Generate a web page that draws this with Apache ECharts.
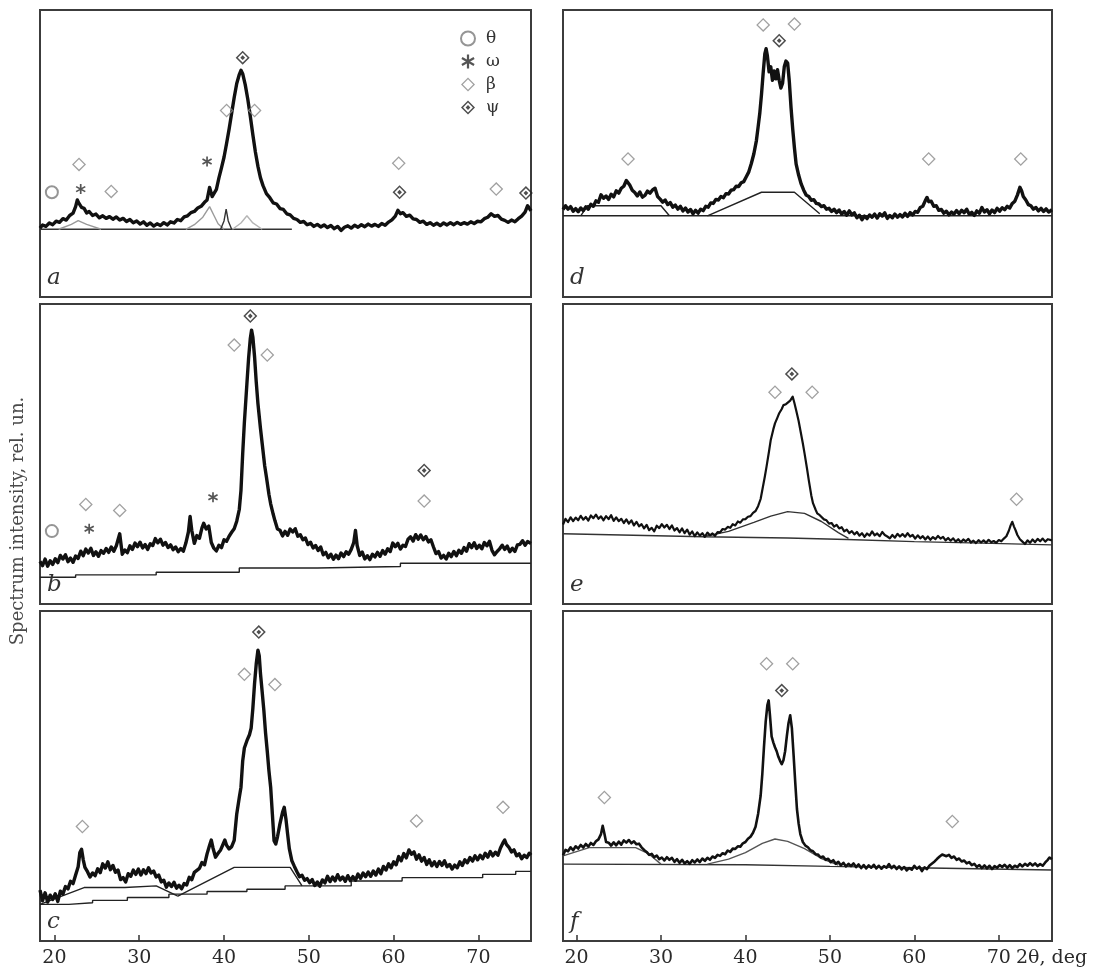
<!DOCTYPE html>
<html>
<head>
<meta charset="utf-8">
<script src="https://cdn.jsdelivr.net/npm/echarts@6/dist/echarts.min.js"></script>
<style>
  html, body { margin: 0; padding: 0; background: #fff; }
  #chart { width: 1096px; height: 970px; }
</style>
</head>
<body>
<div id="chart"></div>
<script>
// ticks of the 2θ axis
const tickValues = [20, 30, 40, 50, 60, 70];

// ---- panel a ----
const curveA = [[18.3,24.0],[18.6,25.1],[19.0,24.6],[19.4,25.8],[19.8,25.2],[20.2,26.4],[20.6,26.0],[21.0,27.3],[21.4,26.8],[21.8,28.4],[22.2,29.2],[22.5,31.5],[22.7,33.8],[22.9,32.6],[23.2,31.2],[23.5,30.9],[23.8,29.3],[24.1,29.8],[24.5,28.4],[24.9,28.9],[25.3,27.6],[25.7,28.3],[26.1,27.4],[26.5,28.0],[26.9,27.1],[27.3,27.9],[27.7,26.8],[28.1,27.4],[28.5,26.3],[28.9,27.0],[29.3,25.9],[29.7,26.5],[30.1,25.4],[30.5,26.2],[30.9,25.0],[31.3,25.8],[31.7,24.7],[32.1,25.5],[32.5,24.9],[32.9,25.9],[33.3,25.1],[33.7,26.2],[34.1,25.8],[34.5,27.0],[34.9,26.6],[35.3,27.9],[35.7,28.3],[36.1,29.4],[36.5,29.8],[36.9,31.0],[37.3,31.6],[37.7,33.0],[38.0,33.8],[38.3,38.2],[38.6,35.0],[38.8,34.5],[39.1,37.5],[39.4,41.5],[39.7,45.0],[40.0,48.7],[40.3,53.5],[40.6,58.5],[40.9,64.0],[41.2,69.5],[41.5,74.4],[41.8,77.5],[42.0,79.0],[42.2,77.8],[42.5,74.0],[42.8,69.0],[43.1,63.0],[43.4,56.5],[43.7,50.5],[44.0,45.5],[44.3,41.5],[44.6,38.8],[45.0,36.0],[45.4,34.6],[45.8,32.8],[46.2,32.4],[46.6,30.8],[47.0,30.5],[47.4,29.0],[47.8,28.6],[48.2,27.4],[48.6,27.0],[49.0,26.0],[49.4,26.3],[49.8,25.2],[50.2,25.6],[50.6,24.6],[51.0,25.3],[51.4,24.4],[51.8,25.1],[52.2,24.2],[52.6,24.9],[53.0,23.8],[53.4,24.6],[53.8,23.2],[54.2,24.3],[54.6,24.8],[55.0,24.0],[55.4,25.0],[55.8,24.3],[56.2,25.2],[56.6,24.5],[57.0,25.4],[57.4,24.7],[57.8,25.3],[58.2,24.6],[58.6,25.6],[59.0,25.0],[59.4,26.1],[59.8,26.9],[60.2,28.2],[60.5,30.2],[60.8,29.0],[61.1,29.4],[61.5,28.1],[61.9,28.5],[62.3,27.2],[62.7,27.0],[63.1,26.0],[63.5,26.4],[63.9,25.3],[64.3,25.9],[64.7,25.0],[65.1,25.7],[65.5,24.9],[65.9,25.8],[66.3,25.1],[66.7,25.9],[67.1,25.2],[67.5,26.0],[67.9,25.3],[68.3,25.9],[68.7,25.4],[69.1,26.2],[69.5,25.6],[69.9,26.4],[70.3,26.2],[70.7,27.3],[71.1,27.8],[71.5,29.0],[71.9,28.1],[72.3,28.4],[72.7,27.1],[73.1,26.7],[73.5,26.0],[73.9,26.8],[74.3,26.2],[74.7,27.3],[75.1,28.2],[75.5,29.6],[75.8,31.8],[76.2,30.0]];
const baseA = [[18.3,23.6],[48,23.6]];
const fitA1 = [[35.5,23.6],[36.5,25.2],[37.5,27.8],[38.3,31.5],[38.8,28.5],[39.3,25.5],[40.0,23.6]];
const fitA2 = [[39.6,23.6],[40.0,26.5],[40.25,30.6],[40.5,26.5],[40.9,23.6]];
const fitA3 = [[41.0,23.6],[42.0,25.8],[42.7,28.3],[43.4,25.8],[44.5,23.6]];
const fitA4 = [[20.5,23.6],[22.0,25.3],[22.8,26.6],[23.8,25.3],[25.5,23.6]];
const thetaA = [[19.7,36.5]];
const omegaA = [[23.1,37.6],[38.0,47.2]];
const betaA = [[22.9,46.2],[26.7,36.8],[40.3,65.0],[43.6,65.0],[60.6,46.6],[72.1,37.6]];
const psiA = [[42.2,83.4],[60.7,36.5],[75.6,36.2]];

// ---- panel b ----
const curveB = [[18.3,14.2],[18.6,12.8],[18.9,15.0],[19.2,12.6],[19.5,14.4],[19.8,13.2],[20.1,15.1],[20.4,13.8],[20.7,16.2],[21.0,15.0],[21.3,16.4],[21.6,14.1],[21.9,15.3],[22.2,13.9],[22.5,16.0],[22.8,15.2],[23.1,17.6],[23.4,16.1],[23.7,18.3],[24.0,17.0],[24.3,18.6],[24.6,16.2],[24.9,17.4],[25.2,15.9],[25.5,17.8],[25.8,16.9],[26.1,18.5],[26.4,17.2],[26.7,19.0],[27.0,17.6],[27.3,19.4],[27.7,23.4],[28.0,16.6],[28.3,18.0],[28.6,17.1],[28.9,19.4],[29.2,18.2],[29.5,20.3],[29.8,19.1],[30.1,20.6],[30.4,18.7],[30.7,19.8],[31.0,18.2],[31.3,20.1],[31.6,19.5],[31.9,21.8],[32.2,20.4],[32.5,21.6],[32.8,19.6],[33.1,20.5],[33.4,18.8],[33.7,19.7],[34.0,18.1],[34.3,19.0],[34.6,17.4],[34.9,18.5],[35.2,17.6],[35.5,20.3],[35.8,24.0],[36.0,29.2],[36.2,24.5],[36.5,20.2],[36.8,22.8],[37.1,21.9],[37.4,25.4],[37.6,26.9],[37.9,25.0],[38.2,26.0],[38.5,20.5],[38.8,18.6],[39.1,17.7],[39.4,19.6],[39.7,18.8],[40.0,21.4],[40.3,20.9],[40.6,22.6],[40.9,23.9],[41.2,25.1],[41.5,27.6],[41.8,31.5],[42.0,37.9],[42.2,50.0],[42.4,60.5],[42.7,73.5],[42.9,82.0],[43.1,88.5],[43.25,91.3],[43.4,89.0],[43.6,82.5],[43.8,74.0],[44.0,66.8],[44.3,58.5],[44.5,53.5],[44.8,46.0],[45.0,42.3],[45.3,36.5],[45.5,33.4],[45.8,29.9],[46.0,27.8],[46.3,25.0],[46.6,24.6],[46.9,22.7],[47.2,24.2],[47.5,22.9],[47.8,25.0],[48.1,24.0],[48.4,25.1],[48.7,22.6],[49.0,23.1],[49.3,21.4],[49.6,22.0],[49.9,19.8],[50.2,20.6],[50.5,18.7],[50.8,19.5],[51.1,17.8],[51.4,19.0],[51.7,16.4],[52.0,17.2],[52.3,15.4],[52.6,16.6],[52.9,14.9],[53.2,16.3],[53.5,15.1],[53.8,17.0],[54.1,15.8],[54.4,17.4],[54.7,16.6],[55.0,18.2],[55.3,20.5],[55.5,24.5],[55.7,19.5],[56.0,16.2],[56.3,17.3],[56.6,15.0],[56.9,16.1],[57.2,14.8],[57.5,16.6],[57.8,15.7],[58.1,17.2],[58.4,15.9],[58.7,17.8],[59.0,16.6],[59.3,18.4],[59.6,17.5],[59.9,20.3],[60.2,19.1],[60.5,20.2],[60.8,18.3],[61.1,19.6],[61.4,19.2],[61.7,21.6],[62.0,22.4],[62.3,21.0],[62.6,23.1],[62.9,21.6],[63.2,23.0],[63.5,21.4],[63.8,22.5],[64.1,20.7],[64.4,21.4],[64.7,19.0],[65.0,16.8],[65.3,17.5],[65.6,15.3],[65.9,16.2],[66.2,15.0],[66.5,16.9],[66.8,15.8],[67.1,17.5],[67.4,16.1],[67.7,17.9],[68.0,16.9],[68.3,18.8],[68.6,17.6],[68.9,20.1],[69.2,18.8],[69.5,20.4],[69.8,18.5],[70.1,19.6],[70.4,18.4],[70.7,20.5],[71.0,19.4],[71.3,20.9],[71.6,17.9],[71.9,16.4],[72.2,17.5],[72.5,18.4],[72.8,19.6],[73.1,18.2],[73.4,19.3],[73.7,17.4],[74.0,18.6],[74.3,17.5],[74.6,19.7],[74.9,19.9],[75.2,21.1],[75.5,19.6],[75.8,20.8],[76.2,20.2]];
const baseB = [[18.3,8.9],[22.5,8.9],[22.5,9.7],[32.0,9.7],[32.0,10.6],[41.8,10.6],[41.8,12.0],[51.0,12.0],[51.0,12.5],[60.8,12.5],[60.8,13.6],[76.2,13.6]];
const thetaB = [[19.7,24.3]];
const omegaB = [[24.1,25.1],[38.7,35.6]];
const betaB = [[23.7,33.2],[27.7,31.2],[41.2,86.3],[45.1,83.0],[63.6,34.3]];
const psiB = [[43.1,96.0],[63.6,44.5]];

// ---- panel c ----
const curveC = [[18.3,15.4],[18.6,12.2],[18.9,14.6],[19.2,11.8],[19.5,13.9],[19.8,12.6],[20.1,14.3],[20.4,12.0],[20.7,15.1],[21.0,14.2],[21.3,16.5],[21.6,15.8],[21.9,18.1],[22.2,17.4],[22.5,20.0],[22.8,22.5],[23.0,26.8],[23.2,27.8],[23.4,24.6],[23.6,22.3],[23.9,21.0],[24.2,19.4],[24.5,20.6],[24.8,19.8],[25.1,21.9],[25.4,20.7],[25.7,23.4],[26.0,22.1],[26.3,24.0],[26.6,21.6],[26.9,22.9],[27.2,20.8],[27.5,21.5],[27.8,18.6],[28.1,19.2],[28.4,17.9],[28.7,20.4],[29.0,19.6],[29.3,21.5],[29.6,20.2],[29.9,21.8],[30.2,20.0],[30.5,21.6],[30.8,20.4],[31.1,22.2],[31.4,20.6],[31.7,21.2],[32.0,19.4],[32.3,20.0],[32.6,17.9],[32.9,18.4],[33.2,16.3],[33.5,17.6],[33.8,16.5],[34.1,17.8],[34.4,16.0],[34.7,16.9],[35.0,15.8],[35.3,17.4],[35.6,17.0],[35.9,19.3],[36.2,18.6],[36.5,20.8],[36.8,21.4],[37.1,22.0],[37.4,23.8],[37.7,23.1],[38.0,26.4],[38.3,29.0],[38.5,30.6],[38.7,28.2],[39.0,25.4],[39.3,26.6],[39.6,27.6],[39.9,29.4],[40.1,30.6],[40.3,29.0],[40.6,27.9],[40.9,28.6],[41.2,30.5],[41.5,38.5],[41.8,43.5],[42.0,46.6],[42.2,54.5],[42.4,58.5],[42.7,60.7],[43.0,62.5],[43.2,64.5],[43.4,70.5],[43.6,78.0],[43.8,84.0],[44.0,88.1],[44.15,86.5],[44.3,81.0],[44.5,75.5],[44.7,69.8],[44.9,63.0],[45.1,57.5],[45.3,51.5],[45.5,46.6],[45.7,38.5],[45.9,30.4],[46.1,29.4],[46.3,31.5],[46.6,35.6],[46.9,39.0],[47.1,40.5],[47.3,37.0],[47.5,32.4],[47.7,28.0],[48.0,24.3],[48.3,22.6],[48.6,21.0],[48.9,19.5],[49.2,19.9],[49.5,18.4],[49.8,18.9],[50.1,17.7],[50.4,18.6],[50.7,16.8],[51.0,17.9],[51.3,16.6],[51.6,18.5],[51.9,17.6],[52.2,19.6],[52.5,18.0],[52.8,19.4],[53.1,18.2],[53.4,20.1],[53.7,18.5],[54.0,19.4],[54.3,18.1],[54.6,19.8],[54.9,18.3],[55.2,19.5],[55.5,18.4],[55.8,20.3],[56.1,19.0],[56.4,20.6],[56.7,19.5],[57.0,20.9],[57.3,19.6],[57.6,21.2],[57.9,20.0],[58.2,21.8],[58.5,20.4],[58.8,22.6],[59.1,21.5],[59.4,23.4],[59.7,22.2],[60.0,24.0],[60.3,23.1],[60.6,25.6],[60.9,24.3],[61.2,26.5],[61.5,25.2],[61.8,27.6],[62.1,26.3],[62.4,27.0],[62.7,24.8],[63.0,26.1],[63.3,24.2],[63.6,25.3],[63.9,23.2],[64.2,24.6],[64.5,22.8],[64.8,24.0],[65.1,22.6],[65.4,24.1],[65.7,22.9],[66.0,24.3],[66.3,22.5],[66.6,23.2],[66.9,21.8],[67.2,23.0],[67.5,22.2],[67.8,24.0],[68.1,22.9],[68.4,24.6],[68.7,23.7],[69.0,25.3],[69.3,24.2],[69.6,25.8],[69.9,24.6],[70.2,26.0],[70.5,24.9],[70.8,26.6],[71.1,25.4],[71.4,27.1],[71.7,25.8],[72.0,26.9],[72.3,26.0],[72.6,28.2],[72.9,29.8],[73.1,30.6],[73.3,29.3],[73.6,28.4],[73.9,27.0],[74.2,27.6],[74.5,25.8],[74.8,26.4],[75.1,24.9],[75.4,26.0],[75.7,25.3],[76.0,26.6],[76.2,26.0]];
const baseC = [[18.3,11.1],[21.7,11.1],[21.7,11.6],[24.5,11.6],[24.5,12.3],[28.6,12.3],[28.6,13.2],[33.5,13.2],[33.5,14.2],[38.0,14.2],[38.0,15.0],[42.7,15.0],[42.7,15.7],[47.2,15.7],[47.2,16.7],[55.0,16.7],[55.0,18.2],[61.0,18.2],[61.0,19.2],[70.5,19.2],[70.5,20.2],[74.4,20.2],[74.4,21.1],[76.2,21.1]];
const haloC1 = [[18.3,11.1],[23.5,16.2],[28.3,16.2],[28.3,16.7],[32.0,16.7],[34.5,13.7]];
const haloC2 = [[34.5,13.5],[41.2,22.3],[47.8,22.3],[49.2,16.7]];
const betaC = [[23.3,34.7],[42.4,80.8],[46.0,77.7],[62.7,36.4],[72.9,40.5]];
const psiC = [[44.1,93.6]];

// ---- panel d ----
const curveD = [[18.4,30.5],[18.7,31.8],[19.0,30.6],[19.3,31.5],[19.6,29.9],[19.9,30.8],[20.2,29.7],[20.5,31.0],[20.8,30.1],[21.1,31.4],[21.4,30.6],[21.7,32.3],[22.0,31.6],[22.3,33.5],[22.6,33.0],[22.9,35.6],[23.2,34.4],[23.5,35.2],[23.8,34.0],[24.1,35.8],[24.4,34.9],[24.7,37.0],[25.0,36.2],[25.3,37.9],[25.6,38.6],[25.9,40.6],[26.1,41.1],[26.3,39.0],[26.6,37.2],[26.9,36.4],[27.2,35.2],[27.5,36.6],[27.8,34.8],[28.1,35.4],[28.4,36.9],[28.7,36.2],[29.0,37.3],[29.3,37.9],[29.6,35.0],[29.9,34.1],[30.2,33.0],[30.5,33.8],[30.8,32.2],[31.1,32.9],[31.4,31.3],[31.7,32.0],[32.0,30.6],[32.3,31.6],[32.6,30.0],[32.9,31.0],[33.2,29.6],[33.5,30.5],[33.8,29.0],[34.1,30.2],[34.4,29.2],[34.7,30.6],[35.0,30.1],[35.3,31.6],[35.6,31.3],[35.9,32.8],[36.2,32.6],[36.5,34.0],[36.8,33.8],[37.1,35.0],[37.4,34.6],[37.7,36.0],[38.0,35.9],[38.3,37.2],[38.6,37.4],[38.9,38.6],[39.2,38.5],[39.5,39.8],[39.8,40.2],[40.1,41.9],[40.4,43.6],[40.7,46.5],[41.0,49.9],[41.3,54.5],[41.5,59.2],[41.7,64.0],[41.9,70.5],[42.1,78.0],[42.3,84.8],[42.45,86.5],[42.6,84.0],[42.8,78.5],[43.0,80.2],[43.2,75.5],[43.4,78.8],[43.6,76.0],[43.8,79.2],[44.0,75.5],[44.2,72.8],[44.4,74.5],[44.6,80.2],[44.8,82.2],[45.0,81.5],[45.2,75.0],[45.4,66.0],[45.6,58.5],[45.8,52.0],[46.0,46.4],[46.3,42.5],[46.6,39.4],[46.9,37.2],[47.2,35.5],[47.5,35.0],[47.8,33.7],[48.1,33.9],[48.4,32.6],[48.7,32.4],[49.0,31.5],[49.3,31.8],[49.6,30.6],[49.9,30.9],[50.2,29.8],[50.5,30.6],[50.8,29.4],[51.1,30.3],[51.4,28.9],[51.7,29.8],[52.0,28.5],[52.3,30.0],[52.6,28.6],[52.9,29.3],[53.2,27.6],[53.5,28.5],[53.8,26.9],[54.1,28.2],[54.4,27.3],[54.7,28.6],[55.0,27.8],[55.3,28.9],[55.6,27.5],[55.9,29.0],[56.2,28.2],[56.5,29.3],[56.8,27.4],[57.1,28.4],[57.4,27.6],[57.7,28.9],[58.0,27.8],[58.3,28.7],[58.6,27.9],[58.9,29.2],[59.2,28.1],[59.5,29.4],[59.8,28.6],[60.1,29.8],[60.4,29.5],[60.7,31.2],[61.0,31.6],[61.3,33.6],[61.5,34.7],[61.7,33.2],[62.0,33.4],[62.3,31.6],[62.6,31.8],[62.9,30.2],[63.2,30.5],[63.5,29.2],[63.8,29.9],[64.1,28.6],[64.4,29.6],[64.7,28.9],[65.0,30.1],[65.3,29.0],[65.6,30.2],[65.9,29.4],[66.2,30.6],[66.5,28.8],[66.8,29.5],[67.1,28.4],[67.4,30.0],[67.7,29.2],[68.0,31.2],[68.3,29.6],[68.6,30.4],[68.9,29.0],[69.2,30.3],[69.5,29.4],[69.8,30.9],[70.1,29.9],[70.4,31.1],[70.7,30.4],[71.0,31.6],[71.3,31.0],[71.6,32.6],[71.9,33.4],[72.2,35.5],[72.5,38.2],[72.7,37.0],[72.9,35.0],[73.2,33.8],[73.5,32.2],[73.8,31.8],[74.1,30.6],[74.4,31.2],[74.7,30.0],[75.0,30.9],[75.3,29.8],[75.6,30.7],[75.9,29.6],[76.3,30.4]];
const baseD = [[18.4,28.3],[76.3,28.3]];
const haloD1 = [[20.5,28.3],[21.3,31.8],[30.0,31.8],[31.0,28.3]];
const haloD2 = [[35.5,28.3],[41.9,36.5],[45.8,36.5],[48.8,29.0]];
const betaD = [[42.1,94.8],[45.8,95.1],[26.1,48.1],[61.7,48.1],[72.6,48.1]];
const psiD = [[44.0,89.3]];

// ---- panel e ----
const curveE = [[18.4,26.5],[18.7,28.4],[19.0,27.3],[19.3,28.9],[19.6,27.6],[19.9,28.8],[20.2,27.9],[20.5,29.4],[20.8,28.1],[21.1,29.0],[21.4,27.8],[21.7,29.5],[22.0,28.6],[22.3,29.8],[22.6,28.4],[22.9,29.2],[23.2,27.9],[23.5,29.3],[23.8,28.3],[24.1,29.6],[24.4,27.7],[24.7,28.9],[25.0,27.6],[25.3,28.4],[25.6,27.0],[25.9,28.2],[26.2,26.8],[26.5,27.9],[26.8,26.2],[27.1,27.4],[27.4,25.9],[27.7,26.6],[28.0,25.2],[28.3,26.4],[28.6,24.6],[28.9,25.4],[29.2,24.2],[29.5,26.1],[29.8,25.3],[30.1,26.6],[30.4,25.5],[30.7,26.4],[31.0,25.0],[31.3,26.2],[31.6,24.5],[31.9,25.3],[32.2,23.9],[32.5,25.2],[32.8,23.6],[33.1,24.8],[33.4,23.1],[33.7,24.2],[34.0,22.6],[34.3,23.9],[34.6,22.8],[34.9,23.6],[35.2,22.4],[35.5,23.8],[35.8,22.9],[36.1,23.5],[36.4,22.7],[36.7,24.0],[37.0,23.9],[37.3,25.0],[37.6,24.8],[37.9,25.7],[38.2,25.4],[38.5,26.6],[38.8,26.2],[39.1,27.5],[39.4,27.1],[39.7,28.2],[40.0,28.3],[40.3,29.1],[40.6,29.3],[40.9,30.4],[41.2,31.0],[41.5,32.6],[41.8,35.0],[42.0,38.0],[42.3,42.5],[42.5,45.8],[42.8,51.0],[43.0,54.7],[43.3,58.2],[43.5,60.2],[43.8,62.2],[44.0,63.6],[44.3,65.0],[44.5,66.3],[44.8,66.6],[45.0,66.9],[45.3,67.8],[45.6,69.1],[45.8,67.0],[46.0,64.7],[46.3,61.0],[46.5,58.0],[46.8,53.5],[47.0,50.2],[47.3,45.0],[47.5,41.3],[47.8,36.2],[48.0,33.6],[48.3,31.5],[48.5,30.2],[48.8,29.6],[49.0,29.1],[49.3,28.2],[49.6,27.9],[49.9,26.8],[50.2,27.0],[50.5,25.8],[50.8,26.4],[51.1,25.2],[51.4,25.6],[51.7,24.2],[52.0,24.8],[52.3,23.6],[52.6,24.3],[52.9,23.2],[53.2,24.0],[53.5,22.8],[53.8,23.6],[54.1,22.4],[54.4,23.5],[54.7,22.8],[55.0,24.2],[55.3,22.9],[55.6,23.5],[55.9,22.6],[56.2,24.0],[56.5,23.0],[56.8,22.5],[57.1,21.9],[57.4,23.0],[57.7,22.1],[58.0,23.4],[58.3,22.5],[58.6,23.3],[58.9,22.4],[59.2,23.6],[59.5,22.5],[59.8,23.0],[60.1,21.8],[60.4,22.9],[60.7,21.9],[61.0,22.6],[61.3,21.5],[61.6,22.5],[61.9,21.4],[62.2,22.3],[62.5,21.6],[62.8,22.7],[63.1,21.8],[63.4,22.4],[63.7,21.2],[64.0,22.0],[64.3,21.1],[64.6,21.9],[64.9,20.8],[65.2,21.6],[65.5,20.6],[65.8,21.5],[66.1,20.9],[66.4,21.7],[66.7,20.5],[67.0,21.1],[67.3,20.3],[67.6,21.3],[67.9,20.5],[68.2,21.2],[68.5,20.4],[68.8,21.4],[69.1,20.6],[69.4,21.0],[69.7,20.4],[70.0,21.3],[70.3,20.9],[70.6,21.8],[70.9,22.6],[71.2,24.5],[71.4,26.2],[71.6,27.4],[71.8,25.8],[72.0,24.5],[72.2,23.0],[72.5,21.6],[72.8,20.8],[73.1,20.0],[73.4,21.2],[73.7,20.4],[74.0,21.5],[74.3,20.6],[74.6,21.7],[74.9,20.9],[75.2,21.8],[75.5,20.8],[75.8,21.6],[76.3,21.2]];
const baseE = [[18.4,23.4],[35.0,22.4],[45.0,22.0],[52.0,21.5],[60.0,20.8],[68.0,20.3],[76.3,19.7]];
const haloE = [[35.0,22.4],[38.0,24.2],[41.0,27.2],[43.0,29.3],[45.0,30.8],[47.0,30.2],[49.0,27.5],[51.0,23.8],[52.2,21.9]];
const betaE = [[43.5,70.6],[47.9,70.6],[72.1,34.9]];
const psiE = [[45.5,76.7]];

// ---- panel f ----
const curveF = [[18.4,26.0],[18.7,27.6],[19.0,27.2],[19.3,28.4],[19.6,27.5],[19.9,28.7],[20.2,28.0],[20.5,29.1],[20.8,28.3],[21.1,29.4],[21.4,28.6],[21.7,29.7],[22.0,29.1],[22.3,30.2],[22.6,30.8],[22.9,32.4],[23.1,34.9],[23.3,32.6],[23.5,30.0],[23.8,29.8],[24.1,28.9],[24.4,29.9],[24.7,29.0],[25.0,30.1],[25.3,29.2],[25.6,30.5],[25.9,29.8],[26.2,30.6],[26.5,29.6],[26.8,30.2],[27.1,29.3],[27.4,29.5],[27.7,28.4],[28.0,27.6],[28.3,27.0],[28.6,26.1],[28.9,26.4],[29.2,25.4],[29.5,25.9],[29.8,24.8],[30.1,25.3],[30.4,24.4],[30.7,25.4],[31.0,24.6],[31.3,25.2],[31.6,24.0],[31.9,24.8],[32.2,23.7],[32.5,24.6],[32.8,23.5],[33.1,24.2],[33.4,23.4],[33.7,24.5],[34.0,23.8],[34.3,24.7],[34.6,23.9],[34.9,25.0],[35.2,24.3],[35.5,25.2],[35.8,24.6],[36.1,25.6],[36.4,25.2],[36.7,26.1],[37.0,25.8],[37.3,26.6],[37.6,26.3],[37.9,27.4],[38.2,27.0],[38.5,28.0],[38.8,27.9],[39.1,28.7],[39.4,28.6],[39.7,29.6],[40.0,30.0],[40.3,31.0],[40.6,31.6],[40.9,32.8],[41.2,34.6],[41.5,38.5],[41.8,44.0],[42.0,50.6],[42.2,59.0],[42.4,66.5],[42.6,71.5],[42.75,72.9],[42.9,68.5],[43.1,62.0],[43.3,60.2],[43.5,58.7],[43.7,57.5],[43.9,55.8],[44.1,54.6],[44.3,53.6],[44.5,54.8],[44.7,57.5],[44.9,62.0],[45.1,66.0],[45.3,68.4],[45.5,64.5],[45.7,56.5],[45.9,48.0],[46.1,40.0],[46.3,35.6],[46.5,32.4],[46.8,30.0],[47.1,28.9],[47.4,28.4],[47.7,27.5],[48.0,27.2],[48.3,26.3],[48.6,26.2],[48.9,25.3],[49.2,25.6],[49.5,24.6],[49.8,24.9],[50.1,23.9],[50.4,24.5],[50.7,23.4],[51.0,24.0],[51.3,22.9],[51.6,23.7],[51.9,22.6],[52.2,23.4],[52.5,22.7],[52.8,23.5],[53.1,22.4],[53.4,23.2],[53.7,22.1],[54.0,23.0],[54.3,22.0],[54.6,22.9],[54.9,22.2],[55.2,23.1],[55.5,22.0],[55.8,22.8],[56.1,21.9],[56.4,22.7],[56.7,22.2],[57.0,23.3],[57.3,22.1],[57.6,22.8],[57.9,21.8],[58.2,22.6],[58.5,21.7],[58.8,22.4],[59.1,21.4],[59.4,22.1],[59.7,21.6],[60.0,22.8],[60.3,21.9],[60.6,22.5],[60.9,21.2],[61.2,22.3],[61.5,21.8],[61.8,22.9],[62.1,23.5],[62.4,24.1],[62.7,24.9],[63.0,25.6],[63.3,26.2],[63.5,26.8],[63.8,25.7],[64.1,26.1],[64.4,25.2],[64.7,25.6],[65.0,24.6],[65.3,25.0],[65.6,24.1],[65.9,24.4],[66.2,23.5],[66.5,23.9],[66.8,23.0],[67.1,23.4],[67.4,22.4],[67.7,23.0],[68.0,22.1],[68.3,22.9],[68.6,22.0],[68.9,22.8],[69.2,21.8],[69.5,22.7],[69.8,22.2],[70.1,23.0],[70.4,22.4],[70.7,23.1],[71.0,22.2],[71.3,23.0],[71.6,22.1],[71.9,22.8],[72.2,22.4],[72.5,23.3],[72.8,22.6],[73.1,23.4],[73.4,22.8],[73.7,23.6],[74.0,22.9],[74.3,23.5],[74.6,22.7],[74.9,23.3],[75.2,22.8],[75.5,23.8],[75.8,24.6],[76.0,25.3],[76.3,24.8]];
const baseF = [[18.4,23.3],[40.0,23.1],[50.0,22.6],[60.0,22.2],[76.3,21.5]];
const haloF1 = [[18.4,25.8],[21.5,28.3],[27.0,28.3],[28.5,26.5],[30.0,23.3]];
const haloF2 = [[35.5,23.3],[38.0,24.8],[40.0,26.8],[42.0,29.6],[43.5,30.9],[45.0,30.2],[47.0,28.0],[49.0,25.0],[51.0,23.0]];
const betaF = [[42.5,84.0],[45.6,84.0],[23.3,43.5],[64.5,36.2]];
const psiF = [[44.3,75.9]];

// phase symbols
const SYM = {
  'θ': 'emptyCircle',
  'ω': 'path://M-1.6,-10L1.6,-10L1.6,10L-1.6,10Z M-7.86,-6.39L9.46,3.61L7.86,6.39L-9.46,-3.61Z M-9.46,3.61L7.86,-6.39L9.46,-3.61L-7.86,6.39Z',
  'β': 'path://M0,-10L10,0L0,10L-10,0Z M0,-7.4L-7.4,0L0,7.4L7.4,0Z',
  'ψ': 'path://M0,-10L10,0L0,10L-10,0Z M0,-7L-7,0L0,7L7,0Z M0,-3.4L3.4,0L0,3.4L-3.4,0Z'
};
const SIZE = { 'θ': 12, 'ω': 10, 'β': 14, 'ψ': 14 };
const COLOR = { 'θ': '#7a7a7a', 'ω': '#2a2a2a', 'β': '#8a8a8a', 'ψ': '#222' };

const panels = [
  { id: 'a', left: 40,  top: 10,  width: 491, height: 287, xmin: 18.3, xmax: 76.2, axis: false,
    curve: curveA, width0: 3.4, lines: [[baseA, '#333'], [fitA1, '#9a9a9a'], [fitA2, '#333'], [fitA3, '#b5b5b5'], [fitA4, '#9a9a9a']],
    marks: [['θ', thetaA], ['ω', omegaA], ['β', betaA], ['ψ', psiA]] },
  { id: 'b', left: 40,  top: 304, width: 491, height: 300, xmin: 18.3, xmax: 76.2, axis: false,
    curve: curveB, width0: 3.4, lines: [[baseB, '#222']],
    marks: [['θ', thetaB], ['ω', omegaB], ['β', betaB], ['ψ', psiB]] },
  { id: 'c', left: 40,  top: 611, width: 491, height: 330, xmin: 18.3, xmax: 76.2, axis: true,
    curve: curveC, width0: 3.4, lines: [[baseC, '#222'], [haloC1, '#222'], [haloC2, '#222']],
    marks: [['β', betaC], ['ψ', psiC]] },
  { id: 'd', left: 563, top: 10,  width: 489, height: 287, xmin: 18.4, xmax: 76.3, axis: false,
    curve: curveD, width0: 3.4, lines: [[baseD, '#222'], [haloD1, '#222'], [haloD2, '#222']],
    marks: [['β', betaD], ['ψ', psiD]] },
  { id: 'e', left: 563, top: 304, width: 489, height: 300, xmin: 18.4, xmax: 76.3, axis: false,
    curve: curveE, width0: 2.2, lines: [[baseE, '#333'], [haloE, '#333']],
    marks: [['β', betaE], ['ψ', psiE]] },
  { id: 'f', left: 563, top: 611, width: 489, height: 330, xmin: 18.4, xmax: 76.3, axis: true,
    curve: curveF, width0: 2.6, lines: [[baseF, '#333'], [haloF1, '#555'], [haloF2, '#555']],
    marks: [['β', betaF], ['ψ', psiF]] }
];

const serif = '"DejaVu Serif", "Liberation Serif", serif';

const grid = [], xAxis = [], yAxis = [], series = [], title = [];
panels.forEach(function (p, i) {
  grid.push({ left: p.left, top: p.top, width: p.width, height: p.height, show: true,
    borderColor: '#3c3c3c', borderWidth: 2, backgroundColor: 'transparent', outerBoundsMode: 'none' });
  xAxis.push({
    type: 'value', gridIndex: i, min: p.xmin, max: p.xmax, show: p.axis,
    axisLine: { show: false },
    axisTick: { show: true, inside: true, length: 6, lineStyle: { color: '#333', width: 1.5 }, customValues: tickValues },
    axisLabel: { customValues: tickValues, margin: 8, fontFamily: serif, fontSize: 19, color: '#2a2a2a' },
    splitLine: { show: false },
    name: p.id === 'f' ? '2θ, deg' : '',
    nameLocation: 'end', nameGap: -36,
    nameTextStyle: { fontFamily: serif, fontSize: 19, color: '#2a2a2a', align: 'left', verticalAlign: 'top', padding: [8, 0, 0, 0] }
  });
  yAxis.push({ type: 'value', gridIndex: i, min: 0, max: 100, show: false });
  title.push({ text: p.id, left: p.left + 2, top: p.top + p.height - 35,
    textStyle: { fontFamily: serif, fontStyle: 'italic', fontWeight: 'normal', fontSize: 23, color: '#333' } });

  p.lines.forEach(function (l) {
    series.push({ type: 'line', xAxisIndex: i, yAxisIndex: i, data: l[0], symbol: 'none', silent: true,
      lineStyle: { color: l[1], width: 1.4 }, z: 2 });
  });
  series.push({ type: 'line', xAxisIndex: i, yAxisIndex: i, data: p.curve, symbol: 'none', silent: true,
    lineStyle: { color: '#111', width: p.width0, join: 'round' }, z: 3 });
  p.marks.forEach(function (m) {
    const name = m[0];
    series.push({ type: 'scatter', name: name, xAxisIndex: i, yAxisIndex: i, data: m[1],
      symbol: SYM[name], symbolSize: SIZE[name],
      itemStyle: name === 'θ' ? { color: COLOR[name], borderWidth: 1.5 } : { color: COLOR[name], borderWidth: 0 },
      z: 5 });
  });
});

const chart = echarts.init(document.getElementById('chart'), null, { renderer: 'canvas' });
chart.setOption({
  animation: false,
  backgroundColor: '#fff',
  title: title,
  grid: grid,
  xAxis: xAxis,
  yAxis: yAxis,
  legend: {
    data: ['θ', 'ω', 'β', 'ψ'], orient: 'vertical', left: 455, top: 25,
    itemWidth: 14, itemHeight: 14, itemGap: 6, selectedMode: false,
    textStyle: { fontFamily: serif, fontSize: 17, color: '#333', padding: [0, 0, 0, 6] }
  },
  graphic: [{
    type: 'text', x: 18, y: 521, rotation: Math.PI / 2,
    style: { text: 'Spectrum intensity, rel. un.', font: '18px "DejaVu Serif"', fill: '#4a4a4a', align: 'center', verticalAlign: 'middle' }
  }],
  series: series
});
</script>
</body>
</html>
